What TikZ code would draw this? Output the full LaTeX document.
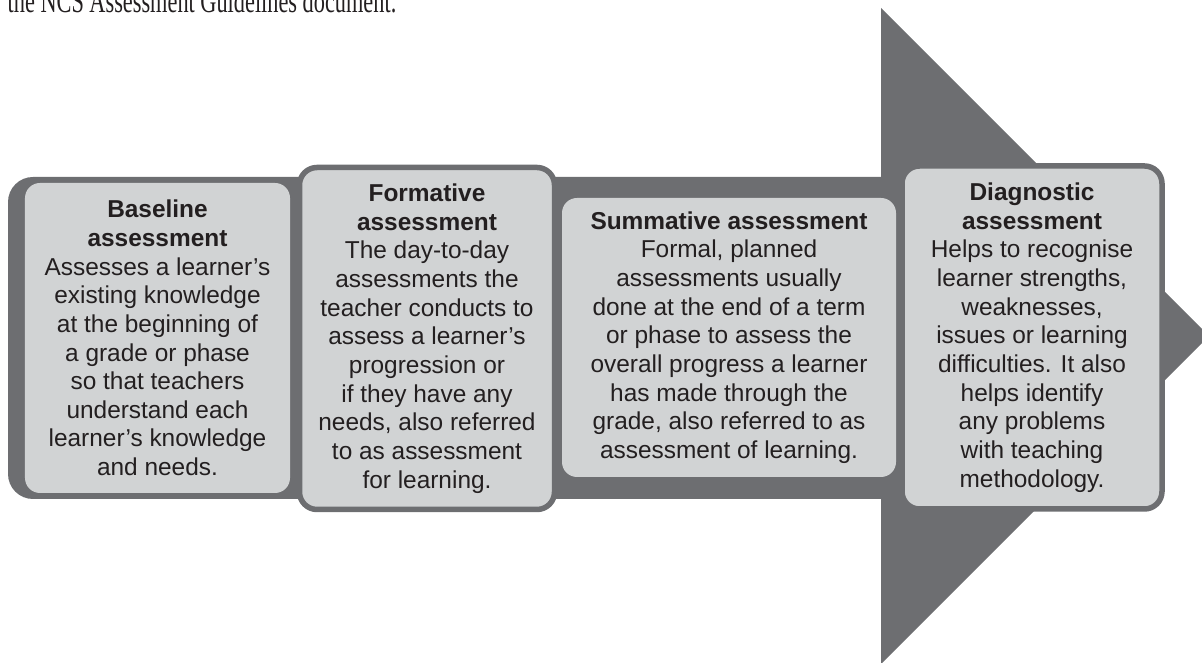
\documentclass[tikz,border=0pt]{standalone}
\usepackage{fontspec}
\setmainfont{Liberation Sans}
\newfontfamily\introfont{Liberation Serif}
\definecolor{arrowgrey}{HTML}{6D6E71}
\definecolor{cardgrey}{HTML}{D1D3D4}
\definecolor{inkblack}{HTML}{231F20}
\tikzset{every picture/.style={line width=0.75pt}}
\tikzset{
  stagebox/.style  ={rectangle, rounded corners=0.3cm, fill=cardgrey, text=inkblack,
                     align=center, inner sep=0pt, font=\fontsize{13.9pt}{16.3pt}\selectfont},
  stageframe/.style={stagebox, rounded corners=0.35cm, draw=arrowgrey, line width=0.11cm},
  introtext/.style ={font=\introfont\fontsize{12.7pt}{15pt}\selectfont, text=inkblack, inner sep=0pt,
                     yscale=1.5, transform shape},
}

\begin{document}
\begin{tikzpicture}
        \useasboundingbox (0,0) rectangle (24.04,13.26);
        \clip (0,0) rectangle (24.04,13.26);
        % line of text running off the top
        \node[introtext, anchor=base west] (intro) at (0.14,13.0) {the NCS Assessment Guidelines document.};
        % big arrow: shaft and head
        \fill[arrowgrey, rounded corners=0.5cm] (0.16,3.28) rectangle (18.4,9.72);
        \fill[arrowgrey] (17.62,13.1) -- (24.18,6.54) -- (17.62,-0.02) -- cycle;
        % baseline
        \node[stagebox, minimum width=5.3cm, minimum height=6.2cm] (base) at (3.15,6.5)
          {\textbf{Baseline}\\ \textbf{assessment}\\ Assesses a learner’s\\ existing knowledge\\
           at the beginning of\\ a grade or phase\\ so that teachers\\ understand each\\
           learner’s knowledge\\ and needs.};
        % formative
        \node[stageframe, minimum width=5.1cm, minimum height=6.84cm] (form) at (8.54,6.49)
          {\textbf{Formative}\\ \textbf{assessment}\\ The day-to-day\\ assessments the\\
           teacher conducts to\\ assess a learner’s\\ progression or\\ if they have any\\
           needs, also referred\\ to as assessment\\ for learning.};
        % summative
        \node[stagebox, minimum width=6.68cm, minimum height=5.58cm] (summ) at (14.58,6.51)
          {\textbf{Summative assessment}\\ Formal, planned\\ assessments usually\\
           done at the end of a term\\ or phase to assess the\\ overall progress a learner\\
           has made through the\\ grade, also referred to as\\ assessment of learning.};
        % diagnostic
        \node[stageframe, minimum width=5.2cm, minimum height=6.86cm] (diag) at (20.64,6.51)
          {\textbf{Diagnostic}\\ \textbf{assessment}\\ Helps to recognise\\ learner strengths,\\
           weaknesses,\\ issues or learning\\ difficulties. It also\\ helps identify\\
           any problems\\ with teaching\\ methodology.};
    \end{tikzpicture}
\end{document}
